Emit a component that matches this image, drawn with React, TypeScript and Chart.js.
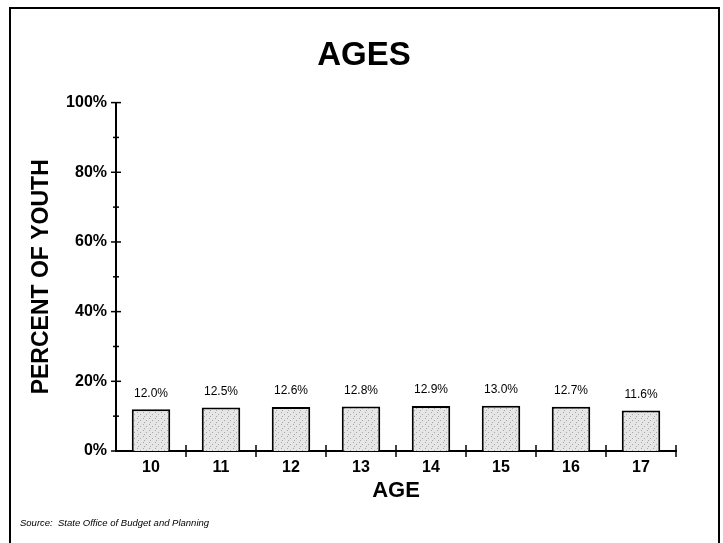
import React, { useEffect, useRef } from 'react';
import { Chart, registerables } from 'chart.js';

Chart.register(...registerables);

const ages = ['10', '11', '12', '13', '14', '15', '16', '17'];
const percents = [12.0, 12.5, 12.6, 12.8, 12.9, 13.0, 12.7, 11.6];
const yMin = 0;
const yMax = 100;
const yStep = 10;
const yLabelStep = 20;
const chartTitle = 'AGES';
const yTitle = 'PERCENT OF YOUTH';
const xTitle = 'AGE';
const sourceNote = 'Source:  State Office of Budget and Planning';

const FONT = "'Liberation Sans', Arial, Helvetica, sans-serif";

function makeStipple(): CanvasPattern | string {
  const c = document.createElement('canvas');
  c.width = 6;
  c.height = 6;
  const g = c.getContext('2d');
  if (!g) return '#e0e0e0';
  g.fillStyle = '#e6e6e6';
  g.fillRect(0, 0, 6, 6);
  g.fillStyle = '#a8a8a8';
  g.fillRect(1, 1, 1, 1);
  g.fillRect(4, 3, 1, 1);
  g.fillRect(2, 5, 1, 1);
  const p = g.createPattern(c, 'repeat');
  return p || '#e0e0e0';
}

const tickMarks = {
  id: 'tickMarks',
  afterDraw(chart: any) {
    const ctx = chart.ctx;
    const x = chart.scales.x;
    const y = chart.scales.y;
    ctx.save();
    ctx.strokeStyle = '#000';
    ctx.lineWidth = 1.5;
    y.ticks.forEach((t: any) => {
      const py = y.getPixelForValue(t.value);
      const major = t.value % yLabelStep === 0;
      const len = major ? 5 : 3;
      ctx.beginPath();
      ctx.moveTo(x.left - len, py);
      ctx.lineTo(t.value === yMin ? x.left : x.left + len, py);
      ctx.stroke();
    });
    for (let i = 0; i < ages.length; i++) {
      const px = x.getPixelForValue(i + 0.5);
      ctx.beginPath();
      ctx.moveTo(px, y.bottom - 6);
      ctx.lineTo(px, y.bottom + 6);
      ctx.stroke();
    }
    ctx.restore();
  },
};

const valueLabels = {
  id: 'valueLabels',
  afterDatasetsDraw(chart: any) {
    const ctx = chart.ctx;
    const meta = chart.getDatasetMeta(0);
    ctx.save();
    ctx.font = `12px ${FONT}`;
    ctx.fillStyle = '#000';
    ctx.textAlign = 'center';
    ctx.textBaseline = 'middle';
    meta.data.forEach((bar: any, i: number) => {
      ctx.fillText(percents[i].toFixed(1) + '%', bar.x, bar.y - 16);
    });
    ctx.restore();
  },
};

export default function App() {
  const canvasRef = useRef<HTMLCanvasElement | null>(null);

  useEffect(() => {
    if (!canvasRef.current) return;
    const chart = new Chart(canvasRef.current, {
      type: 'bar',
      data: {
        labels: ages,
        datasets: [
          {
            data: percents,
            backgroundColor: makeStipple() as any,
            borderColor: '#000',
            borderWidth: 2,
            barPercentage: 0.55,
            categoryPercentage: 1,
          },
        ],
      },
      options: {
        animation: false,
        responsive: true,
        maintainAspectRatio: false,
        layout: { padding: { top: 0, left: 0, right: 0, bottom: 31 } },
        plugins: {
          legend: { display: false },
          tooltip: { enabled: false },
          title: {
            display: true,
            text: chartTitle,
            color: '#000',
            font: { size: 33, weight: 'bold', family: FONT },
            padding: { top: 27, bottom: 27 },
          },
        },
        scales: {
          x: {
            afterFit: (s: any) => {
              s.height = 58;
            },
            grid: { display: false, drawTicks: false },
            border: { display: true, color: '#000', width: 2 },
            ticks: {
              color: '#000',
              font: { size: 16, weight: 'bold', family: FONT },
              padding: 7,
            },
            title: {
              display: true,
              text: xTitle,
              color: '#000',
              font: { size: 22, weight: 'bold', family: FONT },
              padding: { top: 0, bottom: 5 },
            },
          },
          y: {
            min: yMin,
            max: yMax,
            afterFit: (s: any) => {
              s.width = 106;
            },
            grid: { display: false, drawTicks: false },
            border: { display: true, color: '#000', width: 2 },
            ticks: {
              stepSize: yStep,
              autoSkip: false,
              color: '#000',
              font: { size: 16, weight: 'bold', family: FONT },
              padding: 9,
              callback: (v: any) => (Number(v) % yLabelStep === 0 ? v + '%' : ''),
            },
            title: {
              display: true,
              text: yTitle,
              color: '#000',
              font: { size: 23, weight: 'bold', family: FONT },
              padding: { top: 18, bottom: 0 },
            },
          },
          yRight: {
            position: 'right',
            display: true,
            afterFit: (s: any) => {
              s.width = 42;
            },
            grid: { display: false, drawTicks: false },
            border: { display: false },
            ticks: { display: false },
          },
        },
      },
      plugins: [valueLabels, tickMarks],
    } as any);
    return () => chart.destroy();
  }, []);

  return (
    <div>
      <div
        style={{
          position: 'absolute',
          left: 9,
          top: 7,
          width: 711,
          height: 536,
          boxSizing: 'border-box',
          borderTop: '2px solid #000',
          borderLeft: '2px solid #000',
          borderRight: '2px solid #000',
        }}
      />
      <div style={{ position: 'absolute', left: 10, top: 9, width: 708, height: 531 }}>
        <canvas ref={canvasRef} />
      </div>
      <div
        style={{
          position: 'absolute',
          left: 20,
          top: 517,
          fontFamily: FONT,
          fontStyle: 'italic',
          fontSize: '9.5px',
          lineHeight: '12px',
          color: '#000',
          whiteSpace: 'pre',
        }}
      >
        {sourceNote}
      </div>
    </div>
  );
}
